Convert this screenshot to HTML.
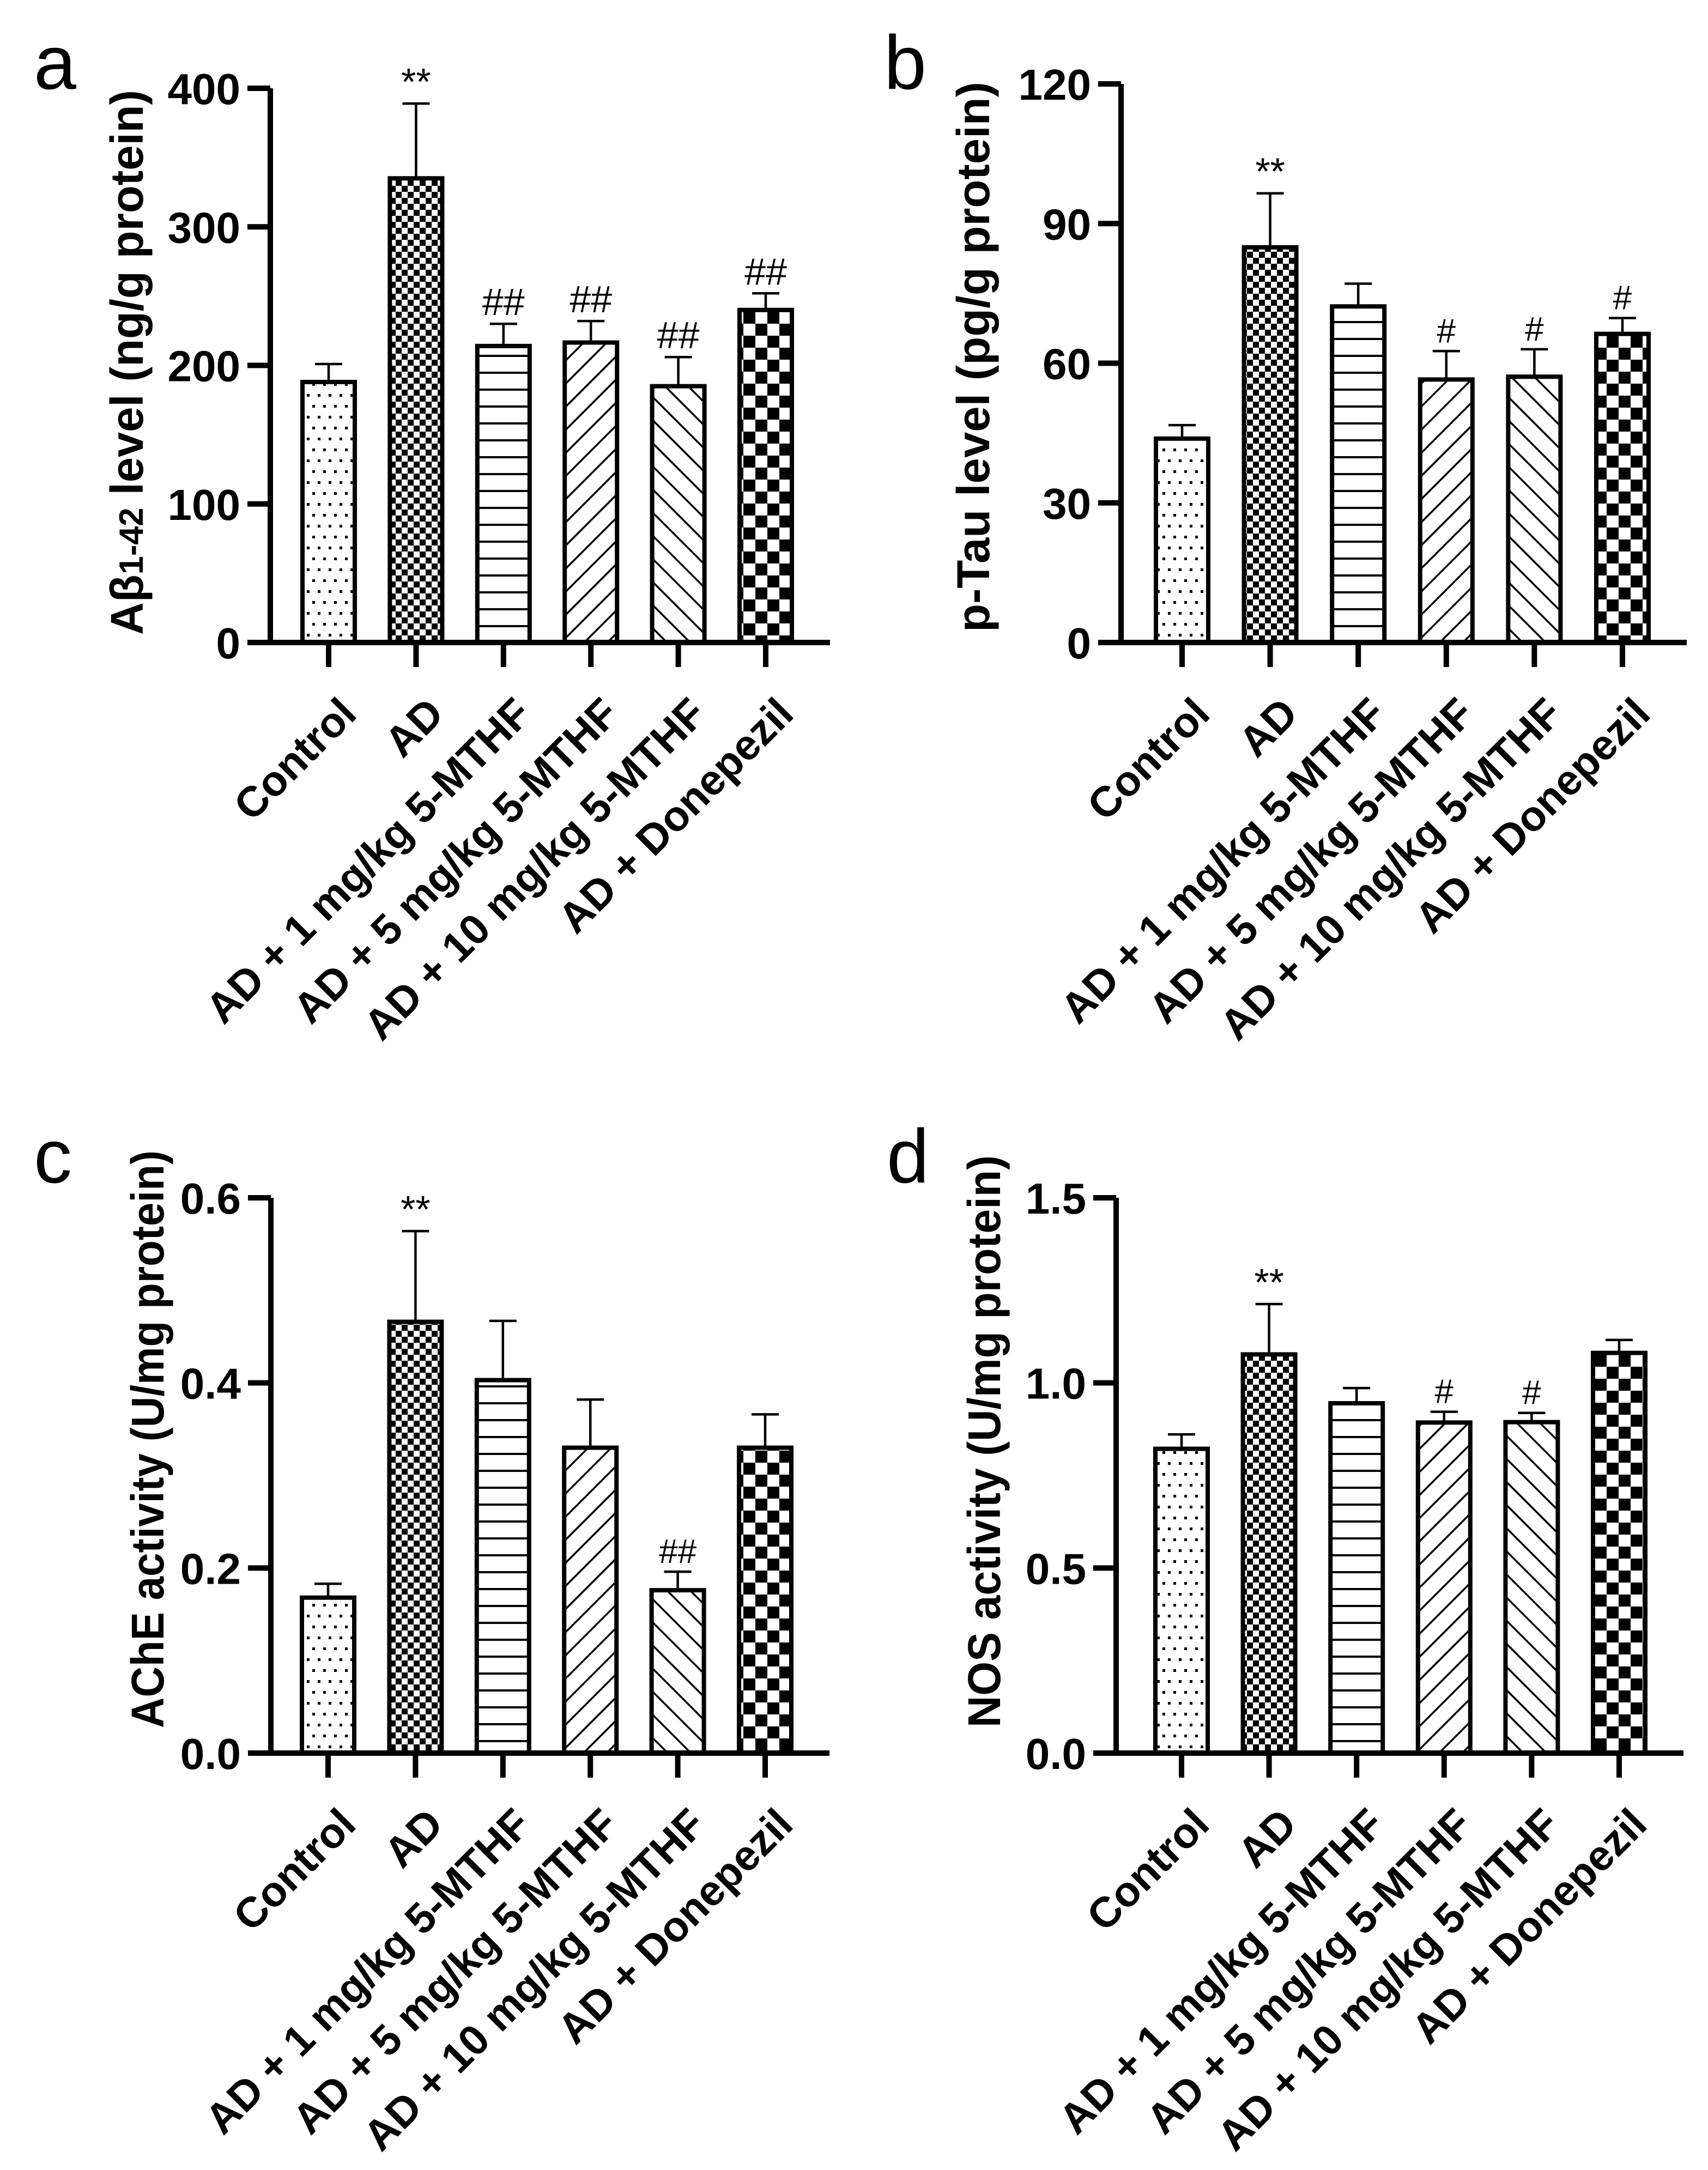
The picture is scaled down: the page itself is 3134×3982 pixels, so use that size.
<!DOCTYPE html>
<html><head><meta charset="utf-8"><style>
html,body{margin:0;padding:0;background:#fff}
svg{display:block}
text{font-family:"Liberation Sans",Arial,sans-serif}
</style></head><body>
<svg id="fig" width="3134" height="3982" viewBox="0 0 3134 3982" xmlns="http://www.w3.org/2000/svg">
<defs>
<pattern id="pDots" patternUnits="userSpaceOnUse" width="20" height="40">
<rect width="20" height="40" fill="#fff"/><rect x="3" y="3" width="5" height="5" fill="#000"/><rect x="13" y="23" width="5" height="5" fill="#000"/></pattern>
<pattern id="pFine" patternUnits="userSpaceOnUse" width="22" height="22">
<rect width="22" height="22" fill="#fff"/><rect width="11" height="11" fill="#000"/><rect x="11" y="11" width="11" height="11" fill="#000"/></pattern>
<pattern id="pHoriz" patternUnits="userSpaceOnUse" width="40" height="31">
<rect width="40" height="31" fill="#fff"/><rect y="0" width="40" height="4" fill="#000"/></pattern>
<pattern id="pFwd" patternUnits="userSpaceOnUse" width="30" height="30" patternTransform="rotate(45)">
<rect width="30" height="30" fill="#fff"/><rect x="0" y="0" width="3.5" height="30" fill="#000"/></pattern>
<pattern id="pBack" patternUnits="userSpaceOnUse" width="30" height="30" patternTransform="rotate(-45)">
<rect width="30" height="30" fill="#fff"/><rect x="0" y="0" width="3.5" height="30" fill="#000"/></pattern>
<pattern id="pBig" patternUnits="userSpaceOnUse" width="44" height="44">
<rect width="44" height="44" fill="#fff"/><rect width="22" height="22" fill="#000"/><rect x="22" y="22" width="22" height="22" fill="#000"/></pattern>
</defs>
</svg>
<script>
const categories = ["Control","AD","AD + 1 mg/kg 5-MTHF","AD + 5 mg/kg 5-MTHF","AD + 10 mg/kg 5-MTHF","AD + Donepezil"];
const aValues = [188, 335, 214, 216.5, 185, 240];
const aErrors = [13, 54, 16, 15.5, 21, 12];
const aMarks = ["", "**", "##", "##", "##", "##"];
const aTicks = [0, 100, 200, 300, 400];
const bValues = [43.8, 84.9, 72.2, 56.5, 57.1, 66.3];
const bErrors = [2.9, 11.6, 4.9, 6.1, 5.9, 3.4];
const bMarks = ["", "**", "", "#", "#", "#"];
const bTicks = [0, 30, 60, 90, 120];
const cValues = [0.168, 0.466, 0.403, 0.330, 0.176, 0.330];
const cErrors = [0.015, 0.098, 0.064, 0.052, 0.020, 0.036];
const cMarks = ["", "**", "", "", "##", ""];
const cTicks = ["0.0", "0.2", "0.4", "0.6"];
const dValues = [0.822, 1.077, 0.945, 0.893, 0.894, 1.081];
const dErrors = [0.039, 0.136, 0.041, 0.029, 0.025, 0.035];
const dMarks = ["", "**", "", "#", "#", ""];
const dTicks = ["0.0", "0.5", "1.0", "1.5"];

const NS = "http://www.w3.org/2000/svg";
const svg = document.getElementById('fig');
const fills = ["url(#pDots)","url(#pFine)","url(#pHoriz)","url(#pFwd)","url(#pBack)","url(#pBig)"];
function mk(tag, attrs, parent){const e=document.createElementNS(NS,tag);for(const k in attrs)e.setAttribute(k,attrs[k]);(parent||svg).appendChild(e);return e;}

function panel(o){
  const g = mk('g', {});
  
  
  const ymax = parseFloat(o.ticks[o.ticks.length-1]);
  const y = v => o.y0 - (v / ymax) * (o.y0 - o.yTop);
  const x = i => o.x1 + i * o.step;
  const lt = mk('text', {x:o.lx, y:o.ly, 'font-size':140, fill:'#000'}, g);
  lt.textContent = o.id;
  
  
  for (let i=0;i<categories.length;i++){
    const v = o.values[i], e = o.errors[i], cx = x(i);
    const bar = mk('rect', {x:cx-48, y:y(v), width:96, height:o.y0-y(v), fill:fills[i], stroke:'#000', 'stroke-width':8}, g);
    
    
    const eb = mk('path', {d:`M${cx},${y(v)} V${y(v+e)} M${cx-25},${y(v+e)} H${cx+25}`, stroke:'#000', 'stroke-width':4.5, fill:'none'}, g);
    
    
    if (o.marks[i]) {
      const m = mk('text', {x:cx, y:y(v+e)-16, 'font-size':o.marks[i].startsWith('#')?o.hashSize:70, 'text-anchor':'middle', fill:'#000'}, g);
      m.textContent = o.marks[i];
      
      
    }
    const tk = mk('line', {x1:cx, x2:cx, y1:o.y0, y2:o.y0+45, stroke:'#000', 'stroke-width':10}, g);
    
    
    const tl = mk('text', {x:0, y:0, 'font-size':78, 'font-weight':'bold', 'text-anchor':'end', fill:'#000', transform:`translate(${cx+55},${o.y0+135}) rotate(-45)`}, g);
    tl.textContent = categories[i];
    
    
  }
  const ax = mk('path', {d:`M${o.ax},${o.yTop} V${o.y0} M${o.ax-5},${o.y0} H${x(5)+118}`, stroke:'#000', 'stroke-width':10, fill:'none'}, g);
  
  
  for (const t of o.ticks){
    const v = parseFloat(t);
    const yt = mk('line', {x1:o.ax-42, x2:o.ax, y1:y(v), y2:y(v), stroke:'#000', 'stroke-width':10}, g);
    
    
    const tx = mk('text', {x:o.ax-55, y:y(v)+29, 'font-size':80, 'font-weight':'bold', 'text-anchor':'end', fill:'#000'}, g);
    tx.textContent = t;
    
    
  }
  const ti = mk('text', {x:0, y:0, 'font-size':84, 'font-weight':'bold', 'text-anchor':'middle', fill:'#000', textLength:o.tLen, lengthAdjust:'spacingAndGlyphs', transform:`translate(${o.tx},${o.tc}) rotate(-90)`}, g);
  
  
  if (o.id === 'a') {
    ti.innerHTML = 'Aβ<tspan font-size="62">1-42</tspan> level (ng/g protein)';
  } else {
    ti.textContent = o.title;
  }
}

panel({id:'a', values:aValues, errors:aErrors, marks:aMarks, ticks:aTicks.map(String), ax:496, x1:603, step:160.4, y0:1179, yTop:162, lx:62, ly:163, tx:262, tc:665, tLen:1000, hashSize:70});
panel({id:'b', values:bValues, errors:bErrors, marks:bMarks, ticks:bTicks.map(String), ax:2057, x1:2169, step:161.6, y0:1179, yTop:154, lx:1622, ly:163, tx:1815, tc:655, tLen:1010, hashSize:62, title:'p-Tau level (pg/g protein)'});
panel({id:'c', values:cValues, errors:cErrors, marks:cMarks, ticks:cTicks, ax:497, x1:602, step:160.4, y0:3217, yTop:2198, lx:62, ly:2170, tx:300, tc:2641, tLen:1060, hashSize:62, title:'AChE activity (U/mg protein)'});
panel({id:'d', values:dValues, errors:dErrors, marks:dMarks, ticks:dTicks, ax:2048, x1:2168, step:160.6, y0:3217, yTop:2198, lx:1627, ly:2170, tx:1835, tc:2645, tLen:1050, hashSize:62, title:'NOS activity (U/mg protein)'});
</script>
</body></html>
